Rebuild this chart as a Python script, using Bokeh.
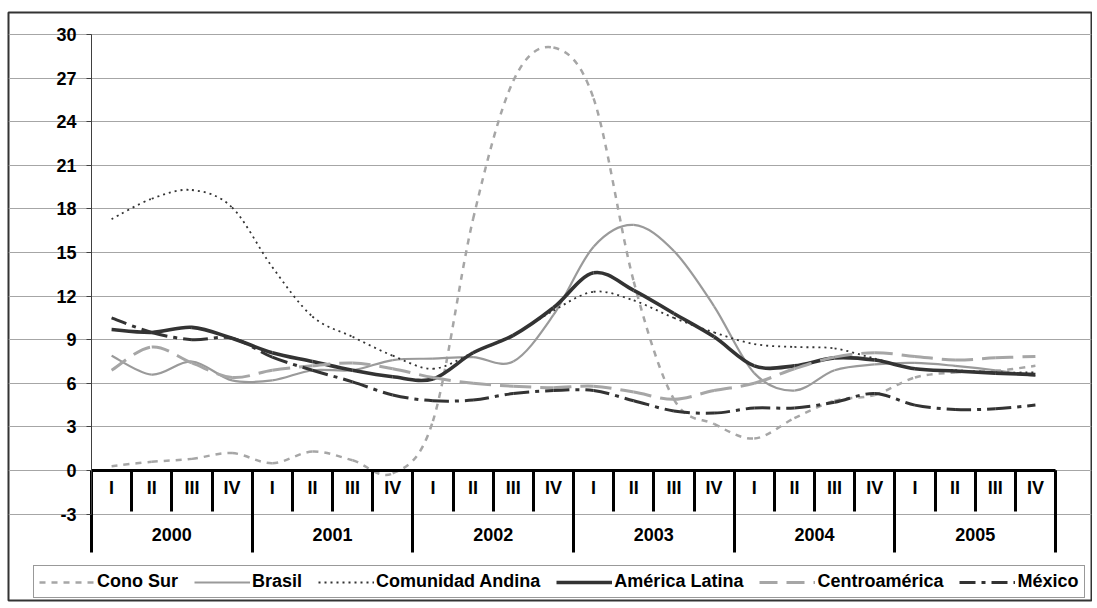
from bokeh.plotting import figure
from bokeh.models import (Range1d, LinearAxis, FixedTicker, Legend, LegendItem,
                          ColumnDataSource, Grid)
from bokeh.embed import file_html
from bokeh.resources import INLINE

# ---------------- data ----------------
years = ["2000", "2001", "2002", "2003", "2004", "2005"]
quarters = ["I", "II", "III", "IV"]
y_ticks = [-3, 0, 3, 6, 9, 12, 15, 18, 21, 24, 27, 30]

series_names = ["Cono Sur", "Brasil", "Comunidad Andina", "América Latina",
                "Centroamérica", "México"]

cono_sur = [0.3, 0.6, 0.8, 1.2, 0.5, 1.3, 0.7, -0.2, 3.4, 17.3, 26.8, 29.1,
            25.6, 13.0, 4.9, 3.2, 2.2, 3.6, 4.8, 5.2, 6.4, 6.75, 6.85, 7.2]
brasil = [7.9, 6.6, 7.5, 6.2, 6.2, 6.9, 6.9, 7.6, 7.7, 7.8, 7.5, 10.7,
          15.4, 16.9, 15.1, 11.3, 6.7, 5.5, 6.9, 7.3, 7.4, 7.2, 6.9, 6.5]
andina = [17.3, 18.7, 19.3, 18.1, 14.0, 10.6, 9.2, 7.9, 7.0, 8.1, 9.3, 11.0,
          12.3, 11.7, 10.5, 9.5, 8.7, 8.5, 8.4, 7.7, 7.0, 6.9, 6.75, 6.75]
america_latina = [9.7, 9.5, 9.85, 9.1, 8.1, 7.5, 6.9, 6.45, 6.3, 8.1, 9.3, 11.2,
                  13.6, 12.4, 10.8, 9.2, 7.2, 7.2, 7.75, 7.6, 7.0, 6.85, 6.7, 6.6]
centroamerica = [6.9, 8.5, 7.4, 6.4, 6.9, 7.2, 7.4, 7.0, 6.4, 6.0, 5.8, 5.7,
                 5.8, 5.4, 4.9, 5.5, 6.0, 7.0, 7.8, 8.1, 7.85, 7.6, 7.75, 7.85]
mexico = [10.5, 9.5, 9.0, 9.1, 7.8, 6.9, 6.1, 5.2, 4.8, 4.85, 5.3, 5.5,
          5.5, 4.8, 4.1, 3.95, 4.3, 4.3, 4.7, 5.3, 4.5, 4.2, 4.25, 4.5]

series_values = [cono_sur, brasil, andina, america_latina, centroamerica, mexico]

# ---------------- styles ----------------
styles = [
    dict(line_color="#A6A6A6", line_width=2.5, line_dash="6 6"),
    dict(line_color="#9A9A9A", line_width=2.2, line_dash="solid"),
    dict(line_color="#333333", line_width=1.8, line_dash="2 4"),
    dict(line_color="#333333", line_width=3.6, line_dash="solid"),
    dict(line_color="#A6A6A6", line_width=3.0, line_dash="18 9"),
    dict(line_color="#333333", line_width=3.0, line_dash="16 6 4 6"),
]
FONT = "Liberation Sans"
FS = "18px"

# ---------------- geometry (canvas pixels) ----------------
W, H = 1092, 602
BL, BR, BT, BB = 8, 1, 12, 2
PX_X0, PX_X1 = 91, 1055      # category axis extent
PX_YTOP, PX_Y0 = 34, 470     # value 30 and value 0
Q_TICK, Y_TICK = 41, 82      # separator lengths below the axis

n = len(years) * len(quarters)
ymax = y_ticks[-1]
sx = (PX_X1 - PX_X0) / n
sy = (PX_Y0 - PX_YTOP) / ymax
fl, fr = BL, W - BR
ft, fb = BT, H - BB
x_start = -(PX_X0 - fl) / sx
x_end = n + (fr - PX_X1) / sx
y_end = ymax + (PX_YTOP - ft) / sy
y_start = -(fb - PX_Y0) / sy

p = figure(width=W, height=H, x_range=Range1d(x_start, x_end),
           y_range=Range1d(y_start, y_end), x_axis_type=None, y_axis_type=None,
           toolbar_location=None, output_backend="svg",
           min_border_left=BL, min_border_right=BR, min_border_top=BT,
           min_border_bottom=BB)
p.outline_line_color = "#333333"
p.outline_line_width = 2
p.background_fill_color = "white"
p.border_fill_color = "white"

# value axis
yaxis = LinearAxis(ticker=FixedTicker(ticks=y_ticks, minor_ticks=[]), fixed_location=0,
                   bounds=(y_ticks[0], ymax),
                   major_label_overrides={t: str(t) for t in y_ticks},
                   major_tick_out=5, major_tick_in=0, minor_tick_out=0, minor_tick_in=0,
                   axis_line_color="#404040", major_tick_line_color="#404040",
                   major_label_text_font=FONT, major_label_text_font_style="bold",
                   major_label_text_font_size=FS, major_label_text_color="black",
                   major_label_standoff=10)
p.add_layout(yaxis, "left")
p.add_layout(Grid(dimension=1, ticker=yaxis.ticker, bounds=(0, n),
                  grid_line_color="#A6A6A6", grid_line_width=1))

# series (Excel-like smoothed lines)
xs = [i + 0.5 for i in range(n)]
renderers = []
for vals, st in zip(series_values, styles):
    pts = list(zip(xs, vals))
    d = dict(x0=[], y0=[], x1=[], y1=[], cx0=[], cy0=[], cx1=[], cy1=[])
    for i in range(n - 1):
        pm = pts[max(i - 1, 0)]
        pa = pts[i]
        pb = pts[i + 1]
        pn = pts[min(i + 2, n - 1)]
        d["x0"].append(pa[0]); d["y0"].append(pa[1])
        d["x1"].append(pb[0]); d["y1"].append(pb[1])
        d["cx0"].append(pa[0] + (pb[0] - pm[0]) / 6)
        d["cy0"].append(pa[1] + (pb[1] - pm[1]) / 6)
        d["cx1"].append(pb[0] - (pn[0] - pa[0]) / 6)
        d["cy1"].append(pb[1] - (pn[1] - pa[1]) / 6)
    r = p.bezier(x0="x0", y0="y0", x1="x1", y1="y1", cx0="cx0", cy0="cy0",
                 cx1="cx1", cy1="cy1", source=ColumnDataSource(d), line_cap="butt",
                 line_join="round", **st)
    renderers.append(r)

# category axis: quarters
q_pos = [i + 0.5 for i in range(n)]
q_labels = quarters * len(years)
qaxis = LinearAxis(ticker=FixedTicker(ticks=q_pos, minor_ticks=list(range(n + 1))),
                   fixed_location=0, bounds=(0, n),
                   major_label_overrides=dict(zip(q_pos, q_labels)),
                   major_tick_out=0, major_tick_in=0, minor_tick_out=Q_TICK, minor_tick_in=0,
                   minor_tick_line_width=3, minor_tick_line_color="black",
                   axis_line_width=3, axis_line_color="black",
                   major_label_text_font=FONT, major_label_text_font_style="bold",
                   major_label_text_font_size=FS, major_label_text_color="black",
                   major_label_standoff=7 - Q_TICK)
p.add_layout(qaxis, "below")

# category axis: years
per = len(quarters)
y_pos = [k * per + per / 2 for k in range(len(years))]
yr_axis = LinearAxis(ticker=FixedTicker(ticks=y_pos,
                                        minor_ticks=[k * per for k in range(len(years) + 1)]),
                     fixed_location=0, bounds=(0, n),
                     major_label_overrides=dict(zip(y_pos, years)),
                     major_tick_out=0, major_tick_in=0, minor_tick_out=Y_TICK, minor_tick_in=0,
                     minor_tick_line_width=3, minor_tick_line_color="black",
                     axis_line_color=None,
                     major_label_text_font=FONT, major_label_text_font_style="bold",
                     major_label_text_font_size=FS, major_label_text_color="black",
                     major_label_standoff=57 - Y_TICK)
p.add_layout(yr_axis, "below")

legend = Legend(items=[LegendItem(label=nm, renderers=[r])
                       for nm, r in zip(series_names, renderers)],
                orientation="horizontal", location=(25, 2),
                glyph_width=56, glyph_height=18, label_standoff=2, spacing=16,
                padding=5, margin=0, border_line_color="#333333", border_line_width=1,
                background_fill_color="white", background_fill_alpha=1,
                label_text_font=FONT, label_text_font_style="bold",
                label_text_font_size=FS, label_text_color="black")
p.add_layout(legend)

open("out.html", "w").write(file_html(p, INLINE))
